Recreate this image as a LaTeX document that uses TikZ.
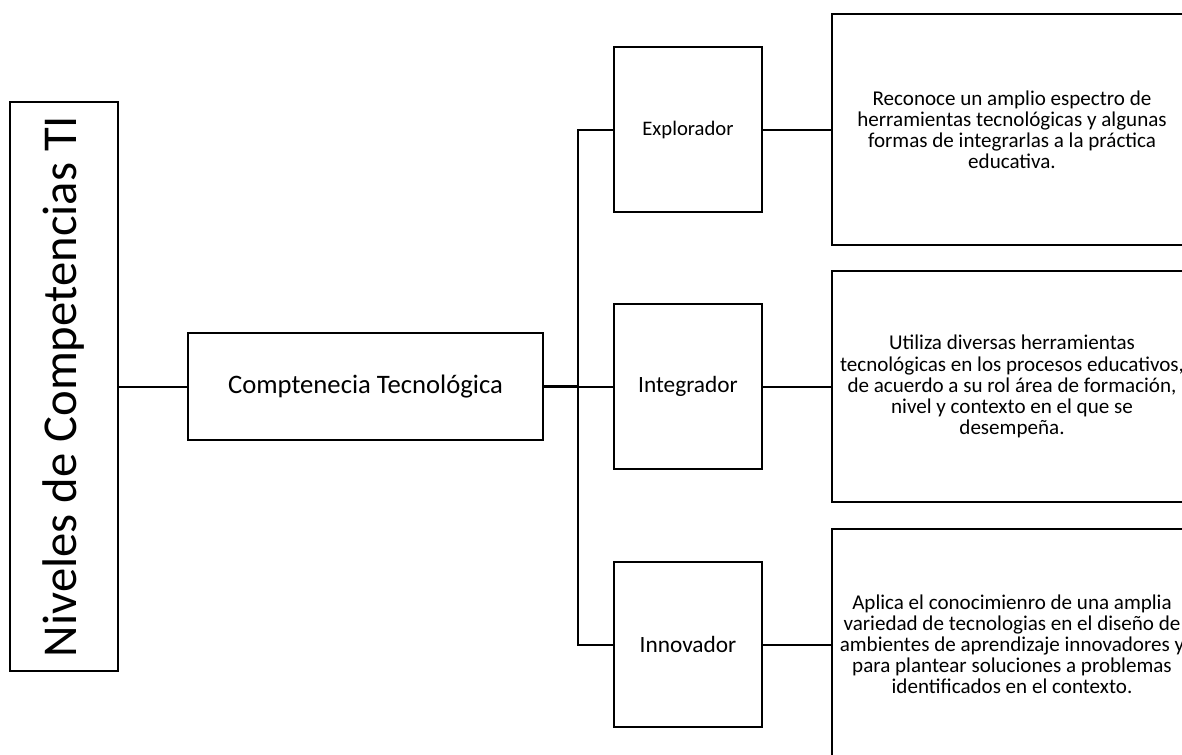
\documentclass[tikz,border=0pt]{standalone}
\usepackage{fontspec}
\setmainfont{Carlito}
\usetikzlibrary{positioning}

\begin{document}
\begin{tikzpicture}[x=0.75pt,y=-0.75pt,line cap=rect]

    \def\xnivel{688}
    \def\xdesc{1012}
    \def\xtronco{578}

    % Styles
    \tikzstyle{caja}=[draw,line width=1.9pt,inner sep=0pt,align=center]
    \tikzstyle{nivel}=[caja,minimum width=148*0.75pt,minimum height=165*0.75pt,font=\fontsize{17.5}{21}\selectfont]
    \tikzstyle{desc}=[caja,minimum width=360*0.75pt,minimum height=231*0.75pt,font=\fontsize{15.8}{15.8}\selectfont]
    \tikzstyle{linea}=[line width=1.5pt]

    \useasboundingbox (0,0) rectangle (1182,754);

    % left box
    \node[caja,minimum width=108*0.75pt,minimum height=569*0.75pt] (titulo) at (64,386.5)
        {\rotatebox{90}{\fontsize{36.5}{42}\selectfont Niveles de Competencias TI}};

    % middle box
    \node[caja,minimum width=355*0.75pt,minimum height=107*0.75pt,font=\fontsize{20}{24}\selectfont] (comp) at (365.5,386.5)
        {Comptenecia Tecnológica};

    % levels
    \node[nivel,font=\fontsize{15.5}{19}\selectfont] (explorador) at (\xnivel,129.5) {Explorador};
    \node[nivel] (integrador) at (\xnivel,386.5) {Integrador};
    \node[nivel] (innovador) at (\xnivel,644.5) {Innovador};

    % descriptions
    \node[desc] (descexp) at (\xdesc,129.5)
        {Reconoce un amplio espectro de\\herramientas tecnológicas y algunas\\formas de integrarlas a la práctica\\educativa.};
    \node[desc] (descint) at (\xdesc,386.5)
        {Utiliza diversas herramientas\\tecnológicas en los procesos educativos,\\de acuerdo a su rol área de formación,\\nivel y contexto en el que se\\desempeña.};
    \node[desc] (descinn) at (\xdesc,644.5)
        {Aplica el conocimienro de una amplia\\variedad de tecnologias en el diseño de\\ambientes de aprendizaje innovadores y\\para plantear soluciones a problemas\\identificados en el contexto.};

    % connectors
    \coordinate (tronco) at (\xtronco,386.5);
    \draw[linea] (titulo.east) -- (comp.west);
    \draw[line width=2.1pt] (comp.east) -- (tronco);
    \draw[linea] (explorador.west) -| (tronco) |- (innovador.west);
    \draw[linea] (tronco) -- (integrador.west);
    \draw[linea] (explorador.east) -- (descexp.west);
    \draw[linea] (integrador.east) -- (descint.west);
    \draw[linea] (innovador.east) -- (descinn.west);

\end{tikzpicture}
\end{document}
